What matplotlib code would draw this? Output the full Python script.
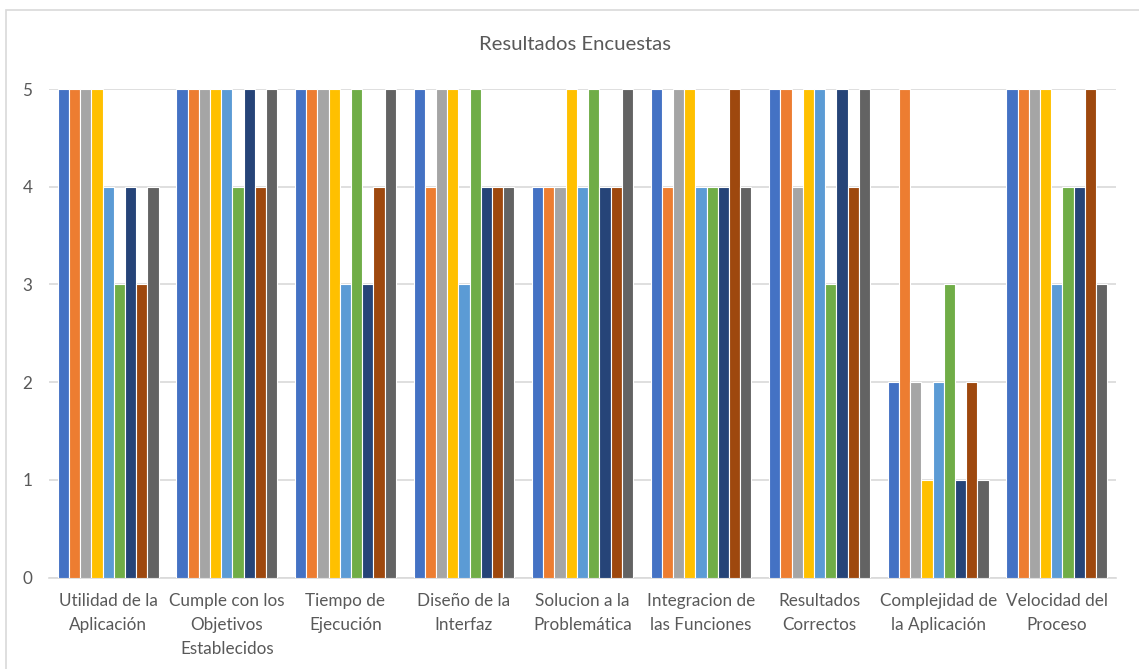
import numpy as np
import matplotlib.pyplot as plt
from matplotlib.patches import Rectangle

# Categories (x axis)
categories = ['Utilidad de la\nAplicación', 'Cumple con los\nObjetivos\nEstablecidos',
              'Tiempo de\nEjecución', 'Diseño de la\nInterfaz', 'Solucion a la\nProblemática',
              'Integracion de\nlas Funciones', 'Resultados\nCorrectos',
              'Complejidad de\nla Aplicación', 'Velocidad del\nProceso']

# One list per respondent (series), values per category
s1 = [5, 5, 5, 5, 4, 5, 5, 2, 5]
s2 = [5, 5, 5, 4, 4, 4, 5, 5, 5]
s3 = [5, 5, 5, 5, 4, 5, 4, 2, 5]
s4 = [5, 5, 5, 5, 5, 5, 5, 1, 5]
s5 = [4, 5, 3, 3, 4, 4, 5, 2, 3]
s6 = [3, 4, 5, 5, 5, 4, 3, 3, 4]
s7 = [4, 5, 3, 4, 4, 4, 5, 1, 4]
s8 = [3, 4, 4, 4, 4, 5, 4, 2, 5]
s9 = [4, 5, 5, 4, 5, 4, 5, 1, 3]
series = [s1, s2, s3, s4, s5, s6, s7, s8, s9]

colors = ['#4472C4', '#ED7D31', '#A5A5A5', '#FFC000', '#5B9BD5',
          '#70AD47', '#264478', '#9E480E', '#636363']

txt = '#595959'
plt.rcParams['font.family'] = ['Lato', 'DejaVu Sans']

fig = plt.figure(figsize=(11.39, 6.69), dpi=100)
ax = fig.add_axes([49 / 1139, 1 - 577.5 / 669, 1067 / 1139, 488.5 / 669])

# Outer chart border
fig.patches.append(Rectangle((6 / 1139, -0.1), 1.2, (669 - 10) / 669 + 0.1,
                             transform=fig.transFigure, fill=False,
                             edgecolor='#D9D9D9', linewidth=1.2))

x = np.arange(len(categories))
n = len(series)
pitch = 0.0945
for i, vals in enumerate(series):
    ax.bar(x + (i - (n - 1) / 2) * pitch, vals, width=pitch,
           color=colors[i], edgecolor='white', linewidth=0.8, zorder=3)

ax.set_xlim(-0.5, len(categories) - 0.5)
ax.set_ylim(0, 5)
ax.set_yticks(range(6))
ax.set_xticks(x)
ax.set_xticklabels(categories, fontsize=12.3, color=txt, linespacing=1.62)
ax.tick_params(axis='y', labelsize=12.3, labelcolor=txt, length=0, pad=12)
ax.tick_params(axis='x', length=0, pad=11)
ax.grid(axis='y', color='#D9D9D9', linewidth=1.2, zorder=0)
for side in ['top', 'right', 'left']:
    ax.spines[side].set_visible(False)
ax.spines['bottom'].set_color('#D9D9D9')
ax.spines['bottom'].set_linewidth(1.2)

fig.text(575 / 1139, 1 - 44 / 669, 'Resultados Encuestas', ha='center', va='center',
         fontsize=14.6, color=txt)

fig.savefig('out.png', dpi=100)
